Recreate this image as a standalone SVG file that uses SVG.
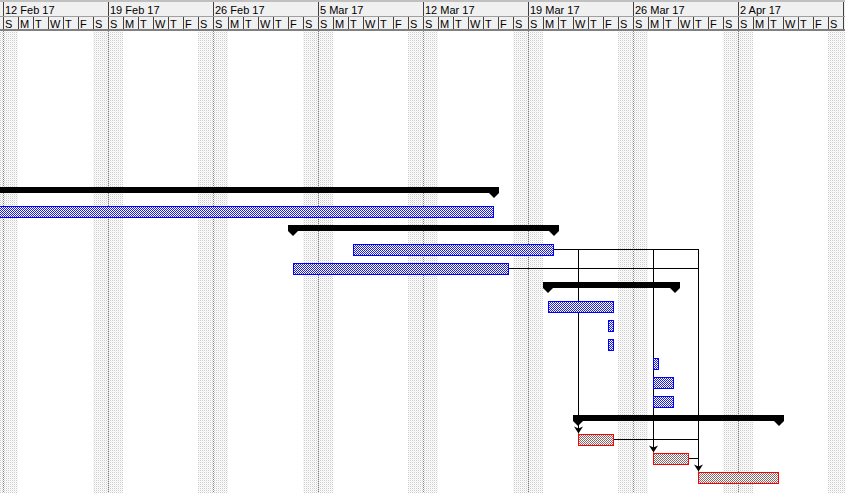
<svg xmlns="http://www.w3.org/2000/svg" width="845" height="493" viewBox="0 0 845 493">
<style>
.hdr{font-family:"Liberation Sans",Arial,sans-serif;font-size:11px;fill:#000}
.wk{fill:url(#shade)}
.wl{stroke:#808080;stroke-width:1;stroke-dasharray:1 1}
.task{fill:url(#blueChk);stroke:#0000ff;stroke-width:1}
.crit{fill:url(#redChk);stroke:#ff0000;stroke-width:1}
.sum{fill:#000}
.lnk{stroke:#000;stroke-width:1;fill:none}
</style>
<defs>
<pattern id="shade" width="2" height="2" patternUnits="userSpaceOnUse">
<rect width="2" height="2" fill="#fff"/>
<rect width="1" height="1" fill="#cccccc"/>
<rect x="1" y="1" width="1" height="1" fill="#eeeeee"/>
</pattern>
<pattern id="blueChk" width="2" height="2" patternUnits="userSpaceOnUse">
<rect width="2" height="2" fill="#fff"/>
<rect width="1" height="1" fill="#2020d0"/>
<rect x="1" y="1" width="1" height="1" fill="#2020d0"/>
</pattern>
<pattern id="redChk" width="2" height="2" patternUnits="userSpaceOnUse">
<rect width="2" height="2" fill="#fff"/>
<rect width="1" height="1" fill="#906060"/>
<rect x="1" y="1" width="1" height="1" fill="#787878"/>
</pattern>
<pattern id="dayLines" x="3" y="0" width="15" height="40" patternUnits="userSpaceOnUse">
<rect x="0" y="0" width="1" height="40" fill="#404040"/>
</pattern>
<pattern id="weekLines" x="3" y="0" width="105" height="40" patternUnits="userSpaceOnUse">
<rect x="0" y="0" width="1" height="40" fill="#404040"/>
</pattern>
<marker id="arr" markerUnits="userSpaceOnUse" viewBox="-8 -5 9 10" refX="0" refY="0" markerWidth="9" markerHeight="10" orient="auto">
<path d="M-7,-4.5 L0,0 L-7,4.5 L-5,0 Z" fill="#000"/>
</marker>
</defs>
<rect width="845" height="493" fill="#fff"/>
<g id="weekends">
<rect class="wk" x="-12" y="31" width="30" height="462"/>
<rect class="wk" x="93" y="31" width="30" height="462"/>
<rect class="wk" x="198" y="31" width="30" height="462"/>
<rect class="wk" x="303" y="31" width="30" height="462"/>
<rect class="wk" x="408" y="31" width="30" height="462"/>
<rect class="wk" x="513" y="31" width="30" height="462"/>
<rect class="wk" x="618" y="31" width="30" height="462"/>
<rect class="wk" x="723" y="31" width="30" height="462"/>
<rect class="wk" x="828" y="31" width="30" height="462"/>
<line class="wl" x1="3.5" y1="31" x2="3.5" y2="493"/>
<line class="wl" x1="108.5" y1="31" x2="108.5" y2="493"/>
<line class="wl" x1="213.5" y1="31" x2="213.5" y2="493"/>
<line class="wl" x1="318.5" y1="31" x2="318.5" y2="493"/>
<line class="wl" x1="423.5" y1="31" x2="423.5" y2="493"/>
<line class="wl" x1="528.5" y1="31" x2="528.5" y2="493"/>
<line class="wl" x1="633.5" y1="31" x2="633.5" y2="493"/>
<line class="wl" x1="738.5" y1="31" x2="738.5" y2="493"/>
</g>
<g id="header">
<rect x="0" y="0" width="845" height="31" fill="#f0f0f0"/>
<rect x="0" y="0" width="845" height="2" fill="#c0c0c0"/>
<rect x="0" y="16" width="845" height="1" fill="#a0a0a0"/>
<rect x="0" y="29" width="845" height="2" fill="#808080"/>
<rect x="0" y="2" width="845" height="14" fill="url(#weekLines)"/>
<rect x="0" y="17" width="845" height="12" fill="url(#dayLines)"/>
<text class="hdr" x="5" y="14">12 Feb 17</text>
<text class="hdr" x="110" y="14">19 Feb 17</text>
<text class="hdr" x="215" y="14">26 Feb 17</text>
<text class="hdr" x="320" y="14">5 Mar 17</text>
<text class="hdr" x="425" y="14">12 Mar 17</text>
<text class="hdr" x="530" y="14">19 Mar 17</text>
<text class="hdr" x="635" y="14">26 Mar 17</text>
<text class="hdr" x="740" y="14">2 Apr 17</text>
<text class="hdr" y="28" x="5 20 35 50 65 80 95 110 125 140 155 170 185 200 215 230 245 260 275 290 305 320 335 350 365 380 395 410 425 440 455 470 485 500 515 530 545 560 575 590 605 620 635 650 665 680 695 710 725 740 755 770 785 800 815 830">SMTWTFSSMTWTFSSMTWTFSSMTWTFSSMTWTFSSMTWTFSSMTWTFSSMTWTFS</text>
</g>
<g id="connectors">
<line class="lnk" x1="554" y1="249.5" x2="699" y2="249.5"/>
<line class="lnk" x1="509" y1="268.5" x2="699" y2="268.5"/>
<line class="lnk" x1="578.5" y1="249" x2="578.5" y2="433.5" marker-end="url(#arr)"/>
<line class="lnk" x1="653.5" y1="249" x2="653.5" y2="452.5" marker-end="url(#arr)"/>
<line class="lnk" x1="698.5" y1="249" x2="698.5" y2="471.5" marker-end="url(#arr)"/>
<line class="lnk" x1="614" y1="439.5" x2="699" y2="439.5"/>
<line class="lnk" x1="689" y1="458.5" x2="699" y2="458.5"/>
</g>
<g id="summary1"><rect class="sum" x="-5" y="187" width="504" height="6"/><polygon class="sum" points="489,193 499,193 494,198"/></g>
<g id="task1"><rect class="task" x="-5" y="206.5" width="498.5" height="11"/></g>
<g id="summary2"><rect class="sum" x="288" y="225" width="271" height="6"/><polygon class="sum" points="288,231 298,231 293,236"/><polygon class="sum" points="549,231 559,231 554,236"/></g>
<g id="task2"><rect class="task" x="353.5" y="244.5" width="200" height="11"/></g>
<g id="task3"><rect class="task" x="293.5" y="263.5" width="215" height="11"/></g>
<g id="summary3"><rect class="sum" x="543" y="282" width="137" height="6"/><polygon class="sum" points="543,288 553,288 548,293"/><polygon class="sum" points="670,288 680,288 675,293"/></g>
<g id="task4"><rect class="task" x="548.5" y="301.5" width="65" height="11"/></g>
<g id="task5"><rect class="task" x="608.5" y="320.5" width="5" height="11"/></g>
<g id="task6"><rect class="task" x="608.5" y="339.5" width="5" height="11"/></g>
<g id="task7"><rect class="task" x="653.5" y="358.5" width="5" height="11"/></g>
<g id="task8"><rect class="task" x="653.5" y="377.5" width="20" height="11"/></g>
<g id="task9"><rect class="task" x="653.5" y="396.5" width="20" height="11"/></g>
<g id="summary4"><rect class="sum" x="573" y="415" width="211" height="6"/><polygon class="sum" points="573,421 583,421 578,426"/><polygon class="sum" points="774,421 784,421 779,426"/></g>
<g id="crit1"><rect class="crit" x="578.5" y="434.5" width="35" height="11"/></g>
<g id="crit2"><rect class="crit" x="653.5" y="453.5" width="35" height="11"/></g>
<g id="crit3"><rect class="crit" x="698.5" y="472.5" width="80" height="11"/></g>
</svg>
